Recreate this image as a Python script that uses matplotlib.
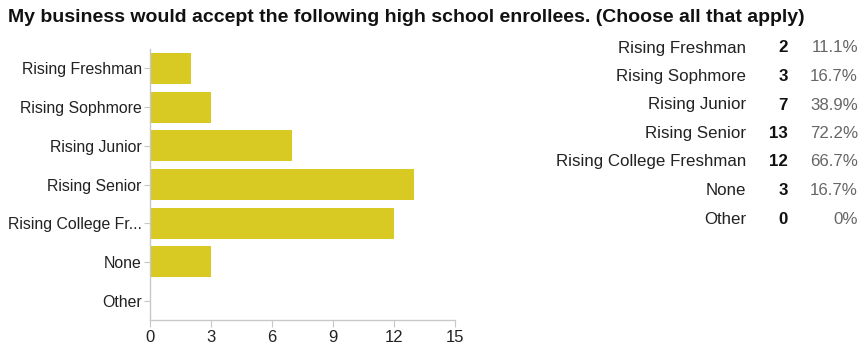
import matplotlib
matplotlib.use("Agg")
import matplotlib.pyplot as plt

categories = ["Rising Freshman", "Rising Sophmore", "Rising Junior", "Rising Senior",
              "Rising College Freshman", "None", "Other"]
tick_labels = ["Rising Freshman", "Rising Sophmore", "Rising Junior", "Rising Senior",
               "Rising College Fr...", "None", "Other"]
counts = [2, 3, 7, 13, 12, 3, 0]
percents = ["11.1%", "16.7%", "38.9%", "72.2%", "66.7%", "16.7%", "0%"]
x_ticks = [0, 3, 6, 9, 12, 15]

plt.rcParams['font.family'] = ['Liberation Sans', 'DejaVu Sans']

W, H = 865, 343
fig = plt.figure(figsize=(W / 100, H / 100), dpi=100)
fig.patch.set_facecolor('white')

ax_left, ax_right = 150, 455
ax_top, ax_bot = 49, 320
ax = fig.add_axes([ax_left / W, 1 - ax_bot / H, (ax_right - ax_left) / W, (ax_bot - ax_top) / H])

ypos = list(range(len(categories)))
ax.barh(ypos, counts, height=0.8, color='#D8CA22', edgecolor='none')
ax.set_ylim(len(categories) - 0.5, -0.5)
ax.set_xlim(0, 15)
ax.set_yticks(ypos)
ax.set_yticklabels(tick_labels, fontsize=11.4, color='#222222')
ax.set_xticks(x_ticks)
ax.set_xticklabels([str(t) for t in x_ticks], fontsize=12, color='#222222')
for s in ['top', 'right']:
    ax.spines[s].set_visible(False)
for s in ['left', 'bottom']:
    ax.spines[s].set_color('#c8c8c8')
    ax.spines[s].set_linewidth(1)
ax.tick_params(axis='y', length=4, color='#c8c8c8', pad=2)
ax.tick_params(axis='x', length=5, color='#c8c8c8', pad=2)

fig.text(8 / W, 1 - 18 / H, "My business would accept the following high school enrollees. (Choose all that apply)",
         fontsize=14, fontweight='bold', color='#111111', ha='left', va='center')

row0, dy = 48, 28.5
for i, (c, n, p) in enumerate(zip(categories, counts, percents)):
    y = 1 - (row0 + i * dy) / H
    fig.text(746 / W, y, c, fontsize=12.2, color='#222222', ha='right', va='center')
    fig.text(788 / W, y, str(n), fontsize=12.2, fontweight='bold', color='#111111', ha='right', va='center')
    fig.text(858 / W, y, p, fontsize=12.2, color='#666666', ha='right', va='center')

fig.savefig("out.png", dpi=100)
